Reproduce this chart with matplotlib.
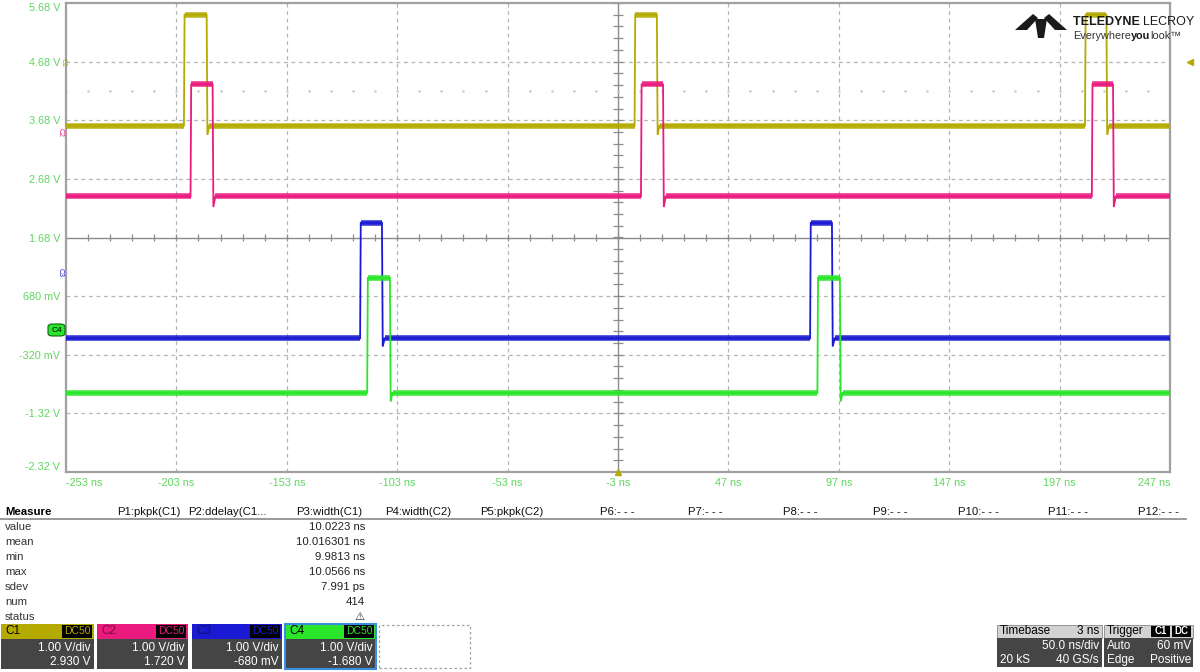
import numpy as np
import matplotlib.pyplot as plt
from matplotlib.patches import Rectangle, Polygon, FancyBboxPatch

plt.rcParams['font.family'] = ['Liberation Sans', 'DejaVu Sans']

time_ticks = [-253, -203, -153, -103, -53, -3, 47, 97, 147, 197, 247]
volt_ticks = [5.68, 4.68, 3.68, 2.68, 1.68, 0.68, -0.32, -1.32, -2.32]
volt_labels = ['5.68 V', '4.68 V', '3.68 V', '2.68 V', '1.68 V',
               '680 mV', '-320 mV', '-1.32 V', '-2.32 V']

# channel: low level, high level, undershoot after fall, rising edges, falling edges (ns)
c1_levels = (3.59, 5.48, 3.43)
c1_rise = [-199.6, 4.5, 208.5]
c1_fall = [-189.3, 14.6, 218.2]
c2_levels = (2.38, 4.29, 2.20)
c2_rise = [-196.6, 7.4, 211.6]
c2_fall = [-186.6, 17.4, 221.2]
c3_levels = (-0.04, 1.93, -0.18)
c3_rise = [-119.8, 84.0]
c3_fall = [-109.9, 93.9]
c4_levels = (-0.97, 0.99, -1.12)
c4_rise = [-116.6, 87.3]
c4_fall = [-106.3, 97.5]

ch_colors = ['#b4aa00', '#ea1a7f', '#1a1ad2', '#2ae62a']
ch_scale = ['1.00 V/div'] * 4
ch_offset = ['2.930 V', '1.720 V', '-680 mV', '-1.680 V']

meas_cols = ['P1:pkpk(C1)', 'P2:ddelay(C1...', 'P3:width(C1)', 'P4:width(C2)',
             'P5:pkpk(C2)', 'P6:- - -', 'P7:- - -', 'P8:- - -', 'P9:- - -',
             'P10:- - -', 'P11:- - -', 'P12:- - -']
meas_rows = ['value', 'mean', 'min', 'max', 'sdev', 'num', 'status']
p3_values = ['10.0223 ns', '10.016301 ns', '9.9813 ns', '10.0566 ns',
             '7.991 ps', '414', '\u26a0']

t_start, t_end = -253, 247

# ---- figure -------------------------------------------------------------
W, H = 1200, 672
fig = plt.figure(figsize=(12, 6.72), dpi=100)
fig.patch.set_facecolor('white')


def fx(x):
    return x / W


def fy(y):
    return 1 - y / H


ax = fig.add_axes([fx(66), fy(472), 1104 / W, 469 / H])
ax.set_xlim(t_start, t_end)
ax.set_ylim(-2.32, 5.68)
for s in ax.spines.values():
    s.set_color('#a0a0a0')
    s.set_linewidth(1.6)

# grid
for t in time_ticks[1:-1]:
    if t == -3:
        ax.axvline(t, color='#8c8c8c', lw=1.0, zorder=1)
    else:
        ax.axvline(t, color='#b4b4b4', lw=0.9, ls=(0, (3, 3)), zorder=1)
for v in volt_ticks[1:-1]:
    if v == 1.68:
        ax.axhline(v, color='#8c8c8c', lw=1.0, zorder=1)
    else:
        ax.axhline(v, color='#b4b4b4', lw=0.9, ls=(0, (3, 3)), zorder=1)
# crosshair minor ticks
minor_t = np.arange(t_start, t_end + 0.1, 10)
ax.vlines(minor_t, 1.68 - 0.06, 1.68 + 0.06, color='#8c8c8c', lw=0.9, zorder=1)
minor_v = np.arange(-2.32, 5.69, 0.2)
ax.hlines(minor_v, -3 - 2.2, -3 + 2.2, color='#8c8c8c', lw=0.9, zorder=1)
ax.plot(minor_t, np.full(len(minor_t), 4.18), ls='none', marker='.', ms=1.5,
        color='#c4c4c4', zorder=1)


def trace(levels, rises, falls, color):
    low, high, under = levels
    t = [t_start]
    v = [low]
    for r, f in zip(rises, falls):
        t += [r, r + 0.3, f, f + 0.35, f + 1.2]
        v += [low, high, high, under, low]
    t.append(t_end)
    v.append(low)
    ax.plot(t, v, color=color, lw=1.3, zorder=3, solid_joinstyle='miter')
    # flat parts look thick from noise
    edges_lo = [t_start] + [f + 1.2 for f in falls]
    edges_hi = rises + [t_end]
    for a, b in zip(edges_lo, edges_hi):
        ax.plot([a, b], [low, low], color=color, lw=4.0, alpha=0.9, zorder=3,
                solid_capstyle='butt')
    for r, f in zip(rises, falls):
        ax.plot([r + 0.3, f], [high, high], color=color, lw=4.0, alpha=0.9,
                zorder=3, solid_capstyle='butt')


trace(c1_levels, c1_rise, c1_fall, ch_colors[0])
trace(c2_levels, c2_rise, c2_fall, ch_colors[1])
trace(c3_levels, c3_rise, c3_fall, ch_colors[2])
trace(c4_levels, c4_rise, c4_fall, ch_colors[3])

# ticks and labels
lab_green = '#5fd65f'
ax.set_xticks(time_ticks)
ax.set_xticklabels([f'{t} ns' for t in time_ticks], color=lab_green, fontsize=7.8)
ax.set_yticks(volt_ticks)
ax.set_yticklabels(volt_labels, color=lab_green, fontsize=7.8)
ax.tick_params(length=0, pad=4)
xl = ax.get_xticklabels()
xl[0].set_ha('left')
xl[-1].set_ha('right')
yl = ax.get_yticklabels()
yl[0].set_va('top')
yl[-1].set_va('bottom')

# channel markers on the left
fig.text(fx(63), fy(62), 'C1', color=ch_colors[0], fontsize=5, rotation=-90,
         ha='center', va='center')
fig.text(fx(60), fy(133), 'C2', color=ch_colors[1], fontsize=5, rotation=-90,
         ha='center', va='center')
fig.text(fx(60), fy(272), 'C3', color=ch_colors[2], fontsize=5, rotation=-90,
         ha='center', va='center')
fig.patches.append(FancyBboxPatch((fx(48), fy(336)), fx(17), 12 / H,
                                  boxstyle='round,pad=0,rounding_size=0.004',
                                  fc=ch_colors[3], ec='#106010', lw=0.8,
                                  transform=fig.transFigure, figure=fig))
fig.text(fx(57), fy(330), 'C4', color='black', fontsize=6, ha='center', va='center')

# trigger markers
ax.plot([-3], [-2.32], marker='^', ms=5, color=ch_colors[0], clip_on=False, zorder=5)
ax.plot([1.018], [4.68], marker='<', ms=5, color=ch_colors[0], clip_on=False,
        zorder=5, transform=ax.get_yaxis_transform())

# logo
logo = [[(1015, 30), (1033, 14), (1038, 18), (1027, 30)],
        [(1035, 19), (1047, 19), (1044, 38), (1038, 38)],
        [(1044, 18), (1049, 14), (1067, 30), (1055, 30)]]
for pts in logo:
    fig.patches.append(Polygon([(fx(a), fy(b)) for a, b in pts], closed=True,
                               fc='#1a1a1a', ec='none', transform=fig.transFigure,
                               figure=fig))

renderer = fig.canvas.get_renderer()


def chain(x, y, parts):
    # place text pieces one after another on one line
    for s, kw in parts:
        txt = fig.text(fx(x), fy(y), s, va='center', **kw)
        x += txt.get_window_extent(renderer).width


chain(1073, 22, [('TELEDYNE ', dict(fontsize=9, weight='bold', color='#1a1a1a')),
                 ('LECROY', dict(fontsize=9, color='#1a1a1a'))])
chain(1073, 36, [('Everywhere', dict(fontsize=7.8, color='#333333')),
                 ('you', dict(fontsize=7.8, weight='bold', color='#1a1a1a')),
                 ('look\u2122', dict(fontsize=7.8, color='#333333'))])

# ---- measure table ------------------------------------------------------
fig.text(fx(5), fy(512), 'Measure', fontsize=8.2, weight='bold', va='center')
col_x = [117, 188, 296, 385, 480, 600, 688, 783, 873, 958, 1048, 1138]
for x, name in zip(col_x, meas_cols):
    fig.text(fx(x), fy(512), name, fontsize=8.2, va='center', color='#111111')
fig.add_artist(plt.Line2D([0, fx(1186)], [fy(519), fy(519)], color='#888888', lw=1.2))
for i, (row, val) in enumerate(zip(meas_rows, p3_values)):
    y = 527 + 15 * i
    fig.text(fx(5), fy(y), row, fontsize=8.2, va='center', color='#333333')
    fig.text(fx(365), fy(y), val, fontsize=8.2, va='center', ha='right',
             color='#222222', family=['DejaVu Sans'] if val == '\u26a0' else None)

# ---- channel boxes ------------------------------------------------------
box_x = [(1, 94), (97, 188), (192, 282), (285, 376)]
for i, (x0, x1) in enumerate(box_x):
    fig.patches.append(Rectangle((fx(x0), fy(639)), fx(x1 - x0), 15 / H,
                                 fc=ch_colors[i], ec='none', transform=fig.transFigure))
    fig.patches.append(Rectangle((fx(x0), fy(669)), fx(x1 - x0), 30 / H,
                                 fc='#454545', ec='none', transform=fig.transFigure))
    fig.patches.append(Rectangle((fx(x1 - 32), fy(638)), fx(30), 13 / H,
                                 fc='black', ec='none', transform=fig.transFigure))
    fig.text(fx(x1 - 17), fy(631), 'DC50', color=ch_colors[i], fontsize=7.5,
             ha='center', va='center')
    name_col = '#10106a' if i == 2 else ('black' if i != 1 else '#7a0c3e')
    fig.text(fx(x0 + 4), fy(631), f'C{i + 1}', color=name_col, fontsize=8.5,
             va='center')
    fig.text(fx(x1 - 3), fy(648), ch_scale[i], color='white', fontsize=8.5,
             ha='right', va='center')
    fig.text(fx(x1 - 3), fy(662), ch_offset[i], color='white', fontsize=8.5,
             ha='right', va='center')
# selected C4 outline
fig.patches.append(Rectangle((fx(285), fy(669)), fx(91), 45 / H, fc='none',
                             ec='#3a8ee0', lw=1.5, transform=fig.transFigure))
fig.patches.append(Rectangle((fx(379), fy(668)), fx(91), 43 / H, fc='none',
                             ec='#a0a0a0', lw=0.9, ls=(0, (2, 2)),
                             transform=fig.transFigure))

# ---- timebase / trigger -------------------------------------------------
fig.patches.append(Rectangle((fx(997), fy(638)), fx(105), 13 / H, fc='#d2d2d2',
                             ec='#888888', lw=0.6, transform=fig.transFigure))
fig.patches.append(Rectangle((fx(997), fy(667)), fx(105), 29 / H, fc='#454545',
                             ec='none', transform=fig.transFigure))
fig.text(fx(1000), fy(631), 'Timebase', fontsize=8.5, va='center')
fig.text(fx(1099), fy(631), '3 ns', fontsize=8.5, va='center', ha='right')
fig.text(fx(1099), fy(646), '50.0 ns/div', fontsize=8.5, va='center', ha='right',
         color='white')
fig.text(fx(1000), fy(660), '20 kS', fontsize=8.5, va='center', color='white')
fig.text(fx(1099), fy(660), '40 GS/s', fontsize=8.5, va='center', ha='right',
         color='white')

fig.patches.append(Rectangle((fx(1104), fy(638)), fx(89), 13 / H, fc='#d2d2d2',
                             ec='#888888', lw=0.6, transform=fig.transFigure))
fig.patches.append(Rectangle((fx(1104), fy(667)), fx(89), 29 / H, fc='#454545',
                             ec='none', transform=fig.transFigure))
fig.text(fx(1107), fy(631), 'Trigger', fontsize=8.5, va='center')
for x0, lab in [(1151, 'C1'), (1172, 'DC')]:
    fig.patches.append(Rectangle((fx(x0), fy(637)), fx(19), 11 / H, fc='black',
                                 ec='none', transform=fig.transFigure))
    fig.text(fx(x0 + 9.5), fy(631), lab, fontsize=7, va='center', ha='center',
             color='white', weight='bold')
fig.text(fx(1107), fy(646), 'Auto', fontsize=8.5, va='center', color='white')
fig.text(fx(1191), fy(646), '60 mV', fontsize=8.5, va='center', ha='right',
         color='white')
fig.text(fx(1107), fy(660), 'Edge', fontsize=8.5, va='center', color='white')
fig.text(fx(1191), fy(660), 'Positive', fontsize=8.5, va='center', ha='right',
         color='white')

fig.savefig('out.png', dpi=100)
